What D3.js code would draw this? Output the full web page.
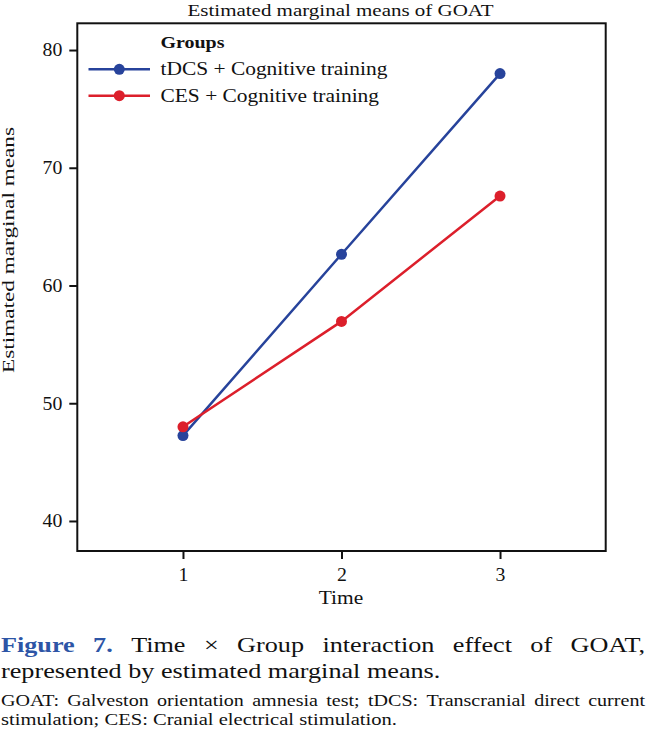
<!DOCTYPE html>
<html>
<head>
<meta charset="utf-8">
<script src="https://cdn.jsdelivr.net/npm/d3@7"></script>
<style>
  body { margin: 0; background: #fff; }
  svg { display: block; }
  text { font-family: 'Liberation Serif', 'DejaVu Serif', serif; fill: #111; }
</style>
</head>
<body>
<svg id="chart" width="646" height="734"></svg>
<script>
// values
const times = [1, 2, 3];
const groupNames = ['tDCS + Cognitive training', 'CES + Cognitive training'];
const tdcsMeans = [47.25, 62.65, 78.0];
const cesMeans = [48.0, 56.95, 67.6];
const yTicks = [40, 50, 60, 70, 80];
const groupColors = ['#27439b', '#dc1f2b'];

const FRAME = {left: 77.3, right: 605.7, top: 23.3, bottom: 551};
const STRETCH = 1.19; // the source font runs wider than Liberation Serif

const svg = d3.select('#chart');

// widen a text node horizontally
function widen(sel, factor) {
  sel.each(function() {
    const w = this.getComputedTextLength();
    d3.select(this)
      .attr('textLength', w * (factor || STRETCH))
      .attr('lengthAdjust', 'spacingAndGlyphs');
  });
  return sel;
}

const x = d3.scaleLinear()
  .domain([1 / 3, 11 / 3])
  .range([FRAME.left, FRAME.right]);

const y = d3.scaleLinear()
  .domain([37.45, 82.27])
  .range([FRAME.bottom, FRAME.top]);

// title
svg.append('text')
  .attr('x', 340.5)
  .attr('y', 16)
  .attr('text-anchor', 'middle')
  .style('font-size', '17.5px')
  .attr('textLength', 306)
  .attr('lengthAdjust', 'spacingAndGlyphs')
  .text('Estimated marginal means of GOAT');

// axes
const yAxis = d3.axisLeft(y).tickValues(yTicks).tickSize(8).tickPadding(7);
const xAxis = d3.axisBottom(x).tickValues(times).tickSize(8).tickPadding(9)
  .tickFormat(d3.format('d'));

const gy = svg.append('g')
  .attr('transform', `translate(${FRAME.left},0)`)
  .call(yAxis);
const gx = svg.append('g')
  .attr('transform', `translate(0,${FRAME.bottom})`)
  .call(xAxis);

[gy, gx].forEach((g) => {
  g.select('.domain').remove();
  g.selectAll('.tick line').attr('stroke', '#111').attr('stroke-width', 2);
  g.selectAll('.tick text')
    .style('font-family', "'Liberation Serif', serif")
    .style('font-size', '18px')
    .attr('fill', '#111');
  widen(g.selectAll('.tick text'), 1.1);
});

svg.append('rect')
  .attr('x', FRAME.left)
  .attr('y', FRAME.top)
  .attr('width', FRAME.right - FRAME.left)
  .attr('height', FRAME.bottom - FRAME.top)
  .attr('fill', 'none')
  .attr('stroke', '#111')
  .attr('stroke-width', 2);

// axis titles
widen(svg.append('text')
  .attr('x', 341)
  .attr('y', 604)
  .attr('text-anchor', 'middle')
  .style('font-size', '18px')
  .text('Time'));

svg.append('text')
  .attr('transform', 'translate(14,250) rotate(-90)')
  .attr('text-anchor', 'middle')
  .style('font-size', '16.5px')
  .attr('textLength', 246)
  .attr('lengthAdjust', 'spacingAndGlyphs')
  .text('Estimated marginal means');

// lines + points
const series = [tdcsMeans, cesMeans];
const line = d3.line()
  .x((d, i) => x(times[i]))
  .y((d) => y(d));

series.forEach((vals, k) => {
  svg.append('path')
    .datum(vals)
    .attr('fill', 'none')
    .attr('stroke', groupColors[k])
    .attr('stroke-width', 2.5)
    .attr('d', line);
});
series.forEach((vals, k) => {
  svg.selectAll(null)
    .data(vals)
    .enter()
    .append('circle')
    .attr('cx', (d, i) => x(times[i]))
    .attr('cy', (d) => y(d))
    .attr('r', 5.5)
    .attr('fill', groupColors[k]);
});

// legend
const legend = svg.append('g');
legend.append('text')
  .attr('x', 160.5)
  .attr('y', 48)
  .style('font-size', '17px')
  .style('font-weight', 'bold')
  .attr('textLength', 64)
  .attr('lengthAdjust', 'spacingAndGlyphs')
  .text('Groups');

groupNames.forEach((name, k) => {
  const ly = 69.3 + k * 26.4;
  legend.append('line')
    .attr('x1', 88.5).attr('x2', 150)
    .attr('y1', ly).attr('y2', ly)
    .attr('stroke', groupColors[k])
    .attr('stroke-width', 2.5);
  legend.append('circle')
    .attr('cx', 119.3).attr('cy', ly).attr('r', 5.5)
    .attr('fill', groupColors[k]);
  widen(legend.append('text')
    .attr('x', 160.5)
    .attr('y', ly + 6)
    .style('font-size', '18px')
    .text(name));
});

// caption, justified lines
function justify(words, baseline, size, left, right, bold, factor) {
  const g = svg.append('g');
  const nodes = words.map((w, i) => {
    const t = g.append('text')
      .attr('y', baseline)
      .style('font-size', size + 'px')
      .text(w);
    if (bold && bold[i]) t.style('font-weight', 'bold').style('fill', '#2d55a6');
    widen(t, factor);
    return t;
  });
  const widths = nodes.map((n) => +n.attr('textLength'));
  const gap = (right - left - d3.sum(widths)) / (words.length - 1);
  let cx = left;
  nodes.forEach((n, i) => {
    n.attr('x', cx);
    cx += widths[i] + gap;
  });
}

justify(['Figure', '7.', 'Time', '\u00d7', 'Group', 'interaction', 'effect', 'of', 'GOAT,'],
  652, 22, 1, 645, [true, true]);

widen(svg.append('text')
  .attr('x', 1)
  .attr('y', 678)
  .style('font-size', '22px')
  .text('represented by estimated marginal means.'));

justify(['GOAT:', 'Galveston', 'orientation', 'amnesia', 'test;', 'tDCS:', 'Transcranial', 'direct', 'current'],
  706, 17, 1, 645, null, 1.18);

widen(svg.append('text')
  .attr('x', 1)
  .attr('y', 725)
  .style('font-size', '17px')
  .text('stimulation; CES: Cranial electrical stimulation.'), 1.21);
</script>
</body>
</html>
